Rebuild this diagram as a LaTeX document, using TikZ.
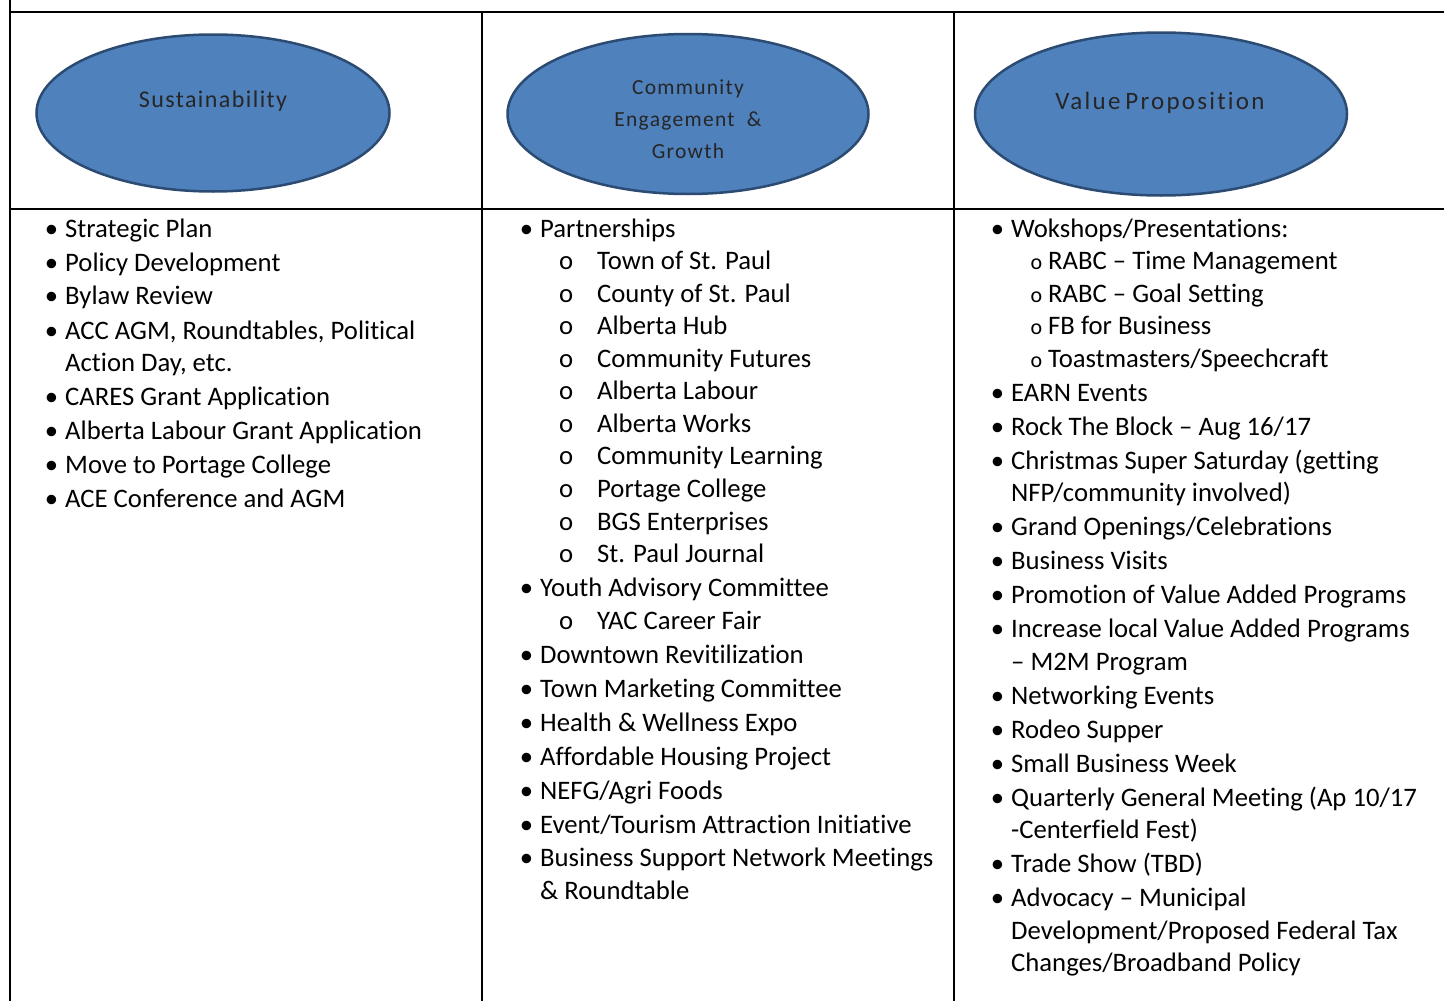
\documentclass[tikz,border=0pt]{standalone}
\usepackage{fontspec}
\setmainfont{Carlito}[Ligatures=NoCommon]
\usetikzlibrary{shapes.geometric}

\definecolor{ovalblue}{HTML}{4F81BD}
\definecolor{ovalline}{HTML}{2B4B72}
\newcommand{\bul}{\llap{\textbullet\hspace{7pt}}}
\newcommand{\subo}{\llap{o\hspace{24pt}}}
\newcommand{\smallo}{\llap{{\fontsize{22}{22}\selectfont o}\hspace{6pt}}}

\begin{document}
\begin{tikzpicture}[x=1pt, y=-1pt,
        rule/.style={line width=2pt},
        oval/.style={ellipse, draw=ovalline, line width=2.5pt, fill=ovalblue, inner sep=0pt},
        ovaltext/.style={text=black!85, align=center, inner sep=0pt,
            font=\fontsize{21.5}{32}\selectfont\addfontfeature{LetterSpace=6}},
        item/.style={anchor=base west, inner sep=0pt, font=\fontsize{26.7}{27}\selectfont}]
        \useasboundingbox (0,0) rectangle (1444,1001);

        \draw[rule] (10,0) -- (10,1001);
        \draw[rule] (482,12) -- (482,1001);
        \draw[rule] (954,12) -- (954,1001);
        \draw[rule] (10,12) -- (1444,12);
        \draw[rule] (10,209) -- (1444,209);

        \node[oval, minimum width=353pt, minimum height=157pt] (sustoval) at (213,113) {};
        \node[oval, minimum width=361pt, minimum height=160pt] (commoval) at (688,114) {};
        \node[oval, minimum width=372pt, minimum height=163pt] (valoval) at (1161,114) {};
        \node[ovaltext, font=\fontsize{24}{24}\selectfont\addfontfeature{LetterSpace=6}] (sustlabel) at (213,101) {Sustainability};
        \node[ovaltext] (commlabel) at (688,119) {Community\\Engagement~~\&\\Growth};
        \node[ovaltext, font=\fontsize{25}{25}\selectfont\addfontfeature{LetterSpace=9}] (vallabel) at (1160,103) {Value\hspace{-3pt} Proposition};

        \node[item] (s1) at (65,237) {\bul Strategic Plan};
        \node[item] (s2) at (65,271) {\bul Policy Development};
        \node[item] (s3) at (65,304) {\bul Bylaw Review};
        \node[item] (s4) at (65,339) {\bul ACC AGM, Roundtables, Political};
        \node[item] (s5) at (65,371) {Action Day, etc.};
        \node[item] (s6) at (65,405) {\bul CARES Grant Application};
        \node[item] (s7) at (65,439) {\bul Alberta Labour Grant Application};
        \node[item] (s8) at (65,473) {\bul Move to Portage College};
        \node[item] (s9) at (65,507) {\bul ACE Conference and AGM};

        \node[item] (c1) at (540,237) {\bul Partnerships};
        \node[item] (c2) at (597,269) {\subo Town of St. Paul};
        \node[item] (c3) at (597,302) {\subo County of St. Paul};
        \node[item] (c4) at (597,334) {\subo Alberta Hub};
        \node[item] (c5) at (597,367) {\subo Community Futures};
        \node[item] (c6) at (597,399) {\subo Alberta Labour};
        \node[item] (c7) at (597,432) {\subo Alberta Works};
        \node[item] (c8) at (597,464) {\subo Community Learning};
        \node[item] (c9) at (597,497) {\subo Portage College};
        \node[item] (c10) at (597,530) {\subo BGS Enterprises};
        \node[item] (c11) at (597,562) {\subo St. Paul Journal};
        \node[item] (c12) at (540,596) {\bul Youth Advisory Committee};
        \node[item] (c13) at (597,629) {\subo YAC Career Fair};
        \node[item] (c14) at (540,663) {\bul Downtown Revitilization};
        \node[item] (c15) at (540,697) {\bul Town Marketing Committee};
        \node[item] (c16) at (540,731) {\bul Health \& Wellness Expo};
        \node[item] (c17) at (540,765) {\bul Affordable Housing Project};
        \node[item] (c18) at (540,799) {\bul NEFG/Agri Foods};
        \node[item] (c19) at (540,833) {\bul Event/Tourism Attraction Initiative};
        \node[item] (c20) at (540,866) {\bul Business Support Network Meetings};
        \node[item] (c21) at (540,899) {\& Roundtable};

        \node[item] (v1) at (1011,237) {\bul Wokshops/Presentations:};
        \node[item] (v2) at (1048,269) {\smallo RABC – Time Management};
        \node[item] (v3) at (1048,302) {\smallo RABC – Goal Setting};
        \node[item] (v4) at (1048,334) {\smallo FB for Business};
        \node[item] (v5) at (1048,367) {\smallo Toastmasters/Speechcraft};
        \node[item] (v6) at (1011,401) {\bul EARN Events};
        \node[item] (v7) at (1011,435) {\bul Rock The Block – Aug 16/17};
        \node[item] (v8) at (1011,469) {\bul Christmas Super Saturday (getting};
        \node[item] (v9) at (1011,501) {NFP/community involved)};
        \node[item] (v10) at (1011,535) {\bul Grand Openings/Celebrations};
        \node[item] (v11) at (1011,569) {\bul Business Visits};
        \node[item] (v12) at (1011,603) {\bul Promotion of Value Added Programs};
        \node[item] (v13) at (1011,637) {\bul Increase local Value Added Programs};
        \node[item] (v14) at (1011,670) {– M2M Program};
        \node[item] (v15) at (1011,704) {\bul Networking Events};
        \node[item] (v16) at (1011,738) {\bul Rodeo Supper};
        \node[item] (v17) at (1011,772) {\bul Small Business Week};
        \node[item] (v18) at (1011,806) {\bul Quarterly General Meeting (Ap 10/17};
        \node[item] (v19) at (1011,838) {-Centerfield Fest)};
        \node[item] (v20) at (1011,872) {\bul Trade Show (TBD)};
        \node[item] (v21) at (1011,906) {\bul Advocacy – Municipal};
        \node[item] (v22) at (1011,939) {Development/Proposed Federal Tax};
        \node[item] (v23) at (1011,971) {Changes/Broadband Policy};
    \end{tikzpicture}
\end{document}
